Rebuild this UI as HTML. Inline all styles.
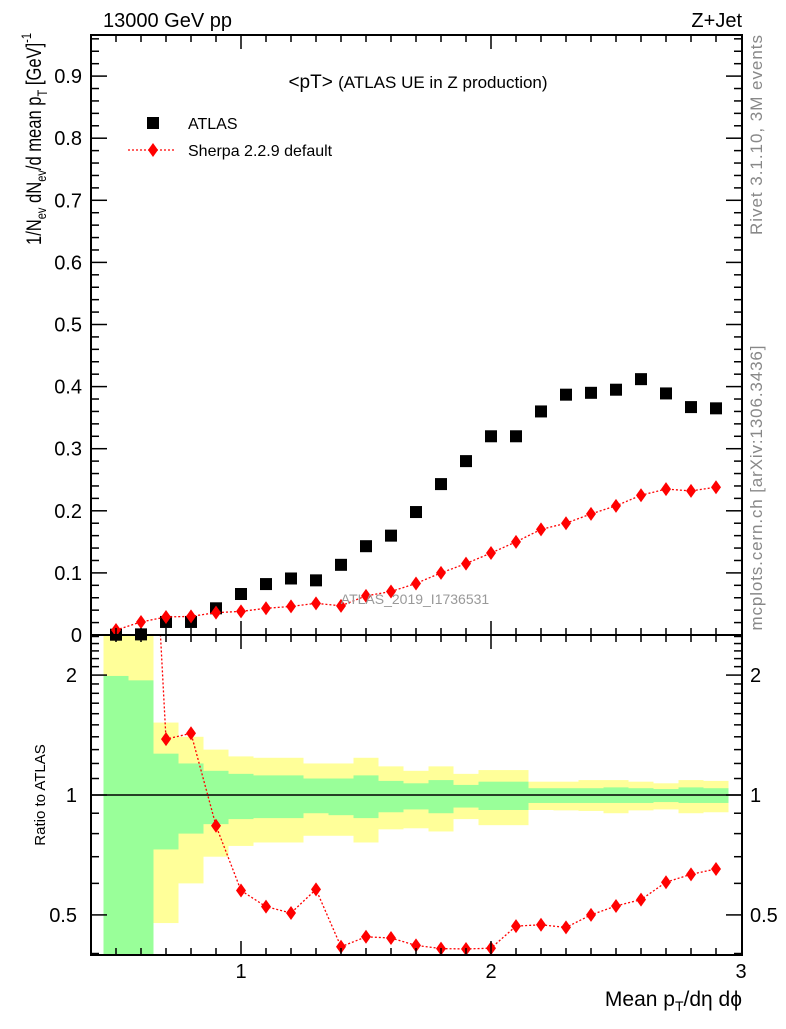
<!DOCTYPE html>
<html><head><meta charset="utf-8"><style>
body{margin:0;background:#fff;}
svg text{font-family:"Liberation Sans",Arial,sans-serif;}
</style></head><body>
<svg id="chart" width="786" height="1024" xmlns="http://www.w3.org/2000/svg">
<g id="bands"></g>
<g id="marks"></g>
<g id="axes"></g>
<text x="103" y="27" font-size="20">13000 GeV pp</text>
<text x="742" y="27" font-size="20" text-anchor="end">Z+Jet</text>
<text x="418" y="88" font-size="19" text-anchor="middle">&lt;pT&gt; <tspan font-size="17">(ATLAS UE in Z production)</tspan></text>
<rect x="147" y="117" width="12" height="12" fill="#000"/>
<text x="188" y="129" font-size="16">ATLAS</text>
<line x1="128" y1="150" x2="176" y2="150" stroke="red" stroke-width="1.3" stroke-dasharray="2,2"/>
<path d="M153,143 L158,150 L153,157 L148,150 Z" fill="red"/>
<text x="188" y="156" font-size="16">Sherpa 2.2.9 default</text>
<text x="415" y="604" font-size="14" fill="#999" text-anchor="middle">ATLAS_2019_I1736531</text>
<text transform="translate(41,245) rotate(-90)" font-size="21" textLength="212" lengthAdjust="spacingAndGlyphs">1/N<tspan font-size="14" dy="5">ev</tspan><tspan dy="-5"> dN</tspan><tspan font-size="14" dy="5">ev</tspan><tspan dy="-5">/d mean p</tspan><tspan font-size="14" dy="6">T</tspan><tspan dy="-6"> [GeV]</tspan><tspan font-size="14" dy="-10">-1</tspan></text>
<text transform="translate(45,795) rotate(-90)" font-size="15" text-anchor="middle">Ratio to ATLAS</text>
<text x="742" y="1006" font-size="21" text-anchor="end">Mean p<tspan font-size="14" dy="5">T</tspan><tspan dy="-5">/dη dϕ</tspan></text>
<text transform="translate(762,135) rotate(-90)" font-size="17" fill="#888" text-anchor="middle" textLength="200">Rivet 3.1.10,  3M events</text>
<text transform="translate(762,488) rotate(-90)" font-size="17" fill="#888" text-anchor="middle" textLength="285">mcplots.cern.ch [arXiv:1306.3436]</text>
</svg>
<script>
const xCenters=[0.5,0.6,0.7,0.8,0.9,1.0,1.1,1.2,1.3,1.4,1.5,1.6,1.7,1.8,1.9,2.0,2.1,2.2,2.3,2.4,2.5,2.6,2.7,2.8,2.9];
const atlasValues=[0.0005,0.001,0.021,0.021,0.043,0.066,0.082,0.091,0.088,0.113,0.143,0.160,0.198,0.243,0.280,0.320,0.320,0.360,0.387,0.390,0.395,0.412,0.389,0.367,0.365];
const sherpaValues=[0.008,0.021,0.029,0.030,0.036,0.038,0.043,0.046,0.051,0.047,0.063,0.070,0.083,0.100,0.115,0.132,0.150,0.170,0.180,0.195,0.208,0.225,0.235,0.232,0.238];
const yellowUp=[3,3,1.52,1.40,1.30,1.25,1.24,1.24,1.20,1.20,1.24,1.18,1.15,1.18,1.13,1.155,1.155,1.08,1.08,1.09,1.09,1.08,1.07,1.09,1.085];
const greenUp=[1.99,1.94,1.27,1.20,1.15,1.13,1.12,1.12,1.10,1.10,1.12,1.085,1.07,1.09,1.06,1.08,1.08,1.04,1.04,1.04,1.045,1.04,1.035,1.045,1.04];
const greenDown=[0.3,0.3,0.73,0.80,0.845,0.87,0.875,0.875,0.90,0.89,0.875,0.905,0.92,0.90,0.93,0.917,0.917,0.955,0.955,0.955,0.955,0.955,0.96,0.955,0.955];
const yellowDown=[0.3,0.3,0.477,0.60,0.70,0.745,0.76,0.76,0.79,0.79,0.76,0.82,0.825,0.81,0.87,0.84,0.84,0.917,0.915,0.912,0.90,0.915,0.92,0.90,0.905];
const mainTicks=[0,0.1,0.2,0.3,0.4,0.5,0.6,0.7,0.8,0.9];
const mainTickLabels=["0","0.1","0.2","0.3","0.4","0.5","0.6","0.7","0.8","0.9"];
const ratioTicks=[0.5,1,2];
const ratioTickLabels=["0.5","1","2"];
const xTicks=[1,2,3];
const xTickLabels=["1","2","3"];

const L=91,R=742,T=35,M=635,B=955;
const NS="http://www.w3.org/2000/svg";
const X=v=>241+(v-1)*250;
const Y=v=>M-v*621;
const RY=v=>795-173*Math.log(v);
function mk(tag,at,parent){const e=document.createElementNS(NS,tag);for(const k in at)e.setAttribute(k,at[k]);parent.appendChild(e);return e;}
const bands=document.getElementById('bands'),marks=document.getElementById('marks'),axes=document.getElementById('axes');
const clipR=v=>Math.min(Math.max(RY(v),M),B);

xCenters.forEach((c,i)=>{
  const x0=X(c-0.05),w=250*0.1;
  let e=mk('rect',{x:x0,y:clipR(yellowUp[i]),width:w,height:clipR(yellowDown[i])-clipR(yellowUp[i]),fill:'#ffff99'},bands);
  
  
  e=mk('rect',{x:x0,y:clipR(greenUp[i]),width:w,height:clipR(greenDown[i])-clipR(greenUp[i]),fill:'#99ff99'},bands);
  
  
});
let e=mk('line',{x1:L,x2:R,y1:RY(1),y2:RY(1),stroke:'#000','stroke-width':1.5},bands);



const defs=mk('defs',{},marks);
const cp=mk('clipPath',{id:'cm'},defs);mk('rect',{x:L,y:T,width:R-L,height:M-T+8},cp);
const cp2=mk('clipPath',{id:'cr'},defs);mk('rect',{x:L,y:M,width:R-L,height:B-M},cp2);
const gm=mk('g',{'clip-path':'url(#cm)'},marks);
const gr=mk('g',{'clip-path':'url(#cr)'},marks);

atlasValues.forEach((v,i)=>{
  const s=mk('rect',{x:X(xCenters[i])-6,y:Y(v)-6,width:12,height:12,fill:'#000'},gm);
  
  
});
const pl=mk('polyline',{points:sherpaValues.map((v,i)=>X(xCenters[i])+','+Y(v)).join(' '),fill:'none',stroke:'red','stroke-width':1.3,'stroke-dasharray':'2,2'},gm);


function diamond(x,y,g,name){const d=mk('path',{d:`M${x},${y-7} L${x+5},${y} L${x},${y+7} L${x-5},${y} Z`,fill:'red'},g);

}
sherpaValues.forEach((v,i)=>diamond(X(xCenters[i]),Y(v),gm,'sherpa-point'));

const ratios=sherpaValues.map((v,i)=>v/atlasValues[i]);
const rl=mk('polyline',{points:ratios.map((r,i)=>X(xCenters[i])+','+RY(r)).join(' '),fill:'none',stroke:'red','stroke-width':1.3,'stroke-dasharray':'2,2'},gr);


ratios.forEach((r,i)=>diamond(X(xCenters[i]),RY(r),gr,'ratio-point'));

[[T,M],[M,B]].forEach(([a,b])=>{const f=mk('rect',{x:L,y:a,width:R-L,height:b-a,fill:'none',stroke:'#000','stroke-width':2},axes);

});
for(let k=5;k<=29;k++){const v=k/10,x=X(v),maj=(k%10===0),len=maj?14:7;
 [[M,-1],[T,1],[B,-1],[M,1]].forEach(([y0,d])=>mk('line',{x1:x,x2:x,y1:y0,y2:y0+d*len,stroke:'#000','stroke-width':1.5},axes));}
xTicks.forEach((v,i)=>{const t=mk('text',{x:X(v),y:978,'font-size':20,'text-anchor':'middle'},axes);t.textContent=xTickLabels[i];

});
for(let k=0;k<=48;k++){const v=k*0.02,y=Y(v);if(y<T)break;const len=(k%5===0)?16:8;
 mk('line',{x1:L,x2:L+len,y1:y,y2:y,stroke:'#000','stroke-width':1.5},axes);mk('line',{x1:R,x2:R-len,y1:y,y2:y,stroke:'#000','stroke-width':1.5},axes);}
mainTicks.forEach((v,i)=>{const t=mk('text',{x:82,y:Y(v)+7,'font-size':20,'text-anchor':'end'},axes);t.textContent=mainTickLabels[i];

});
const minors=[0.4,0.5,0.6,0.7,0.8,0.9,1,1.1,1.2,1.3,1.4,1.5,1.6,1.7,1.8,1.9,2,2.1,2.2,2.3,2.4,2.5];
minors.forEach(v=>{const y=RY(v);if(y<M||y>B)return;const len=ratioTicks.includes(v)?16:8;
 mk('line',{x1:L,x2:L+len,y1:y,y2:y,stroke:'#000','stroke-width':1.5},axes);mk('line',{x1:R,x2:R-len,y1:y,y2:y,stroke:'#000','stroke-width':1.5},axes);});
ratioTicks.forEach((v,i)=>{let t=mk('text',{x:77,y:RY(v)+7,'font-size':20,'text-anchor':'end'},axes);t.textContent=ratioTickLabels[i];


t=mk('text',{x:750,y:RY(v)+7,'font-size':20},axes);t.textContent=ratioTickLabels[i];

});
</script>
</body></html>
